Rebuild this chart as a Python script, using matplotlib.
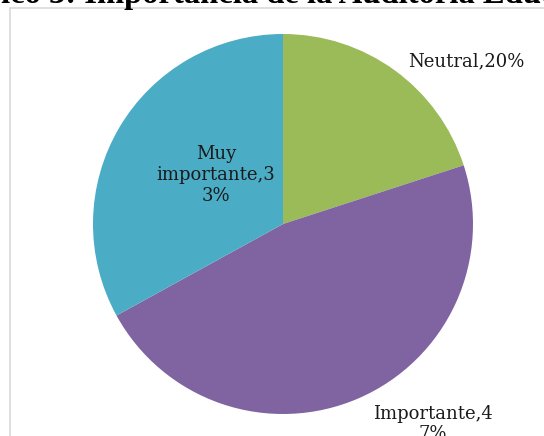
import matplotlib.pyplot as plt
from matplotlib.patches import Rectangle

# data
labels = ["Neutral", "Importante", "Muy importante"]
values = [20, 47, 33]
colors = ["#9BBB59", "#8064A2", "#4BACC6"]
title = "Gráfico 3: Importancia de la Auditoría Educativa"

W, H = 544, 436
fig = plt.figure(figsize=(W / 100, H / 100), dpi=100)
ax = fig.add_axes([0, 0, 1, 1])

cx, cy, r = 283, H - 224, 190
ax.pie(values, colors=colors, startangle=90, counterclock=False,
       center=(cx, cy), radius=r, frame=True, wedgeprops=dict(linewidth=0))
ax.set_xlim(0, W)
ax.set_ylim(0, H)
ax.axis("off")

# chart area border (light gray, runs off right/bottom)
ax.add_patch(Rectangle((9.5, -10), 600, H - 8.5 + 10, fill=False,
                       ec="#D9D9D9", lw=1.2))

lab_font = dict(family="DejaVu Serif", fontsize=13, color="#1a1a1a")
ax.text(466, H - 61, f"{labels[0]},{values[0]}%", ha="center", va="center", **lab_font)
ax.text(216, H - 175, "Muy\nimportante,3\n3%", ha="center", va="center",
        linespacing=1.2, **lab_font)
ax.text(433, H - 424, "Importante,4\n7%", ha="center", va="center",
        linespacing=1.2, **lab_font)

# title sits mostly above the visible area; "Gráf" falls off the left edge
tfont = dict(family="Liberation Serif", fontweight="bold", fontsize=23.5)
fig.canvas.draw()
rend = fig.canvas.get_renderer()
probe = ax.text(0, 0, "Gráf", **tfont)
pw = probe.get_window_extent(rend).width
probe.remove()
ax.text(-pw + 1, H - 3, title, ha="left", va="baseline", color="black", **tfont)

fig.savefig("out.png", dpi=100)
